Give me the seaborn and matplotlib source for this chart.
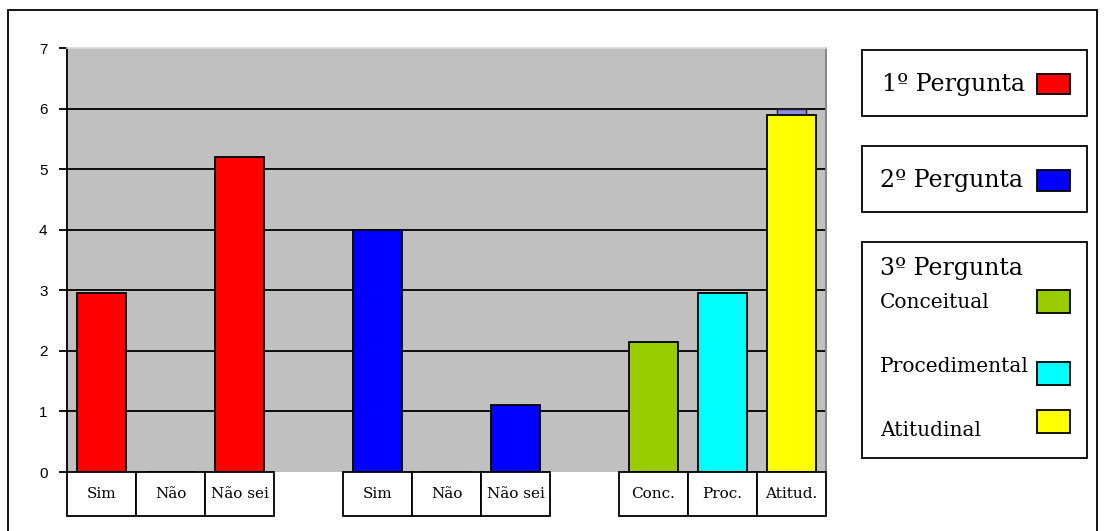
import numpy as np
import pandas as pd
import matplotlib
matplotlib.use("Agg")
import matplotlib.pyplot as plt
from matplotlib.patches import Rectangle
import seaborn as sns

# dados das tres perguntas
q1_labels = ["Sim", "Não", "Não sei"]
q1_values = [2.95, 0.0, 5.2]
q2_labels = ["Sim", "Não", "Não sei"]
q2_values = [4.0, 0.0, 1.1]
q3_labels = ["Conc.", "Proc.", "Atitud."]
q3_values = [2.15, 2.95, 5.9]
q3_names = ["Conceitual", "Procedimental", "Atitudinal"]
atitud_shadow = 6.0  # barrinha azulada atras de Atitud.

q1_color = "#FF0000"
q2_color = "#0000FF"
q3_colors = ["#99CC00", "#00FFFF", "#FFFF00"]

W, H = 1106, 531
SERIF = ["DejaVu Serif", "Liberation Serif"]

sns.set_theme(style="white")
plt.rcParams["font.family"] = ["Liberation Sans", "DejaVu Sans"]
plt.rcParams["text.color"] = "black"
plt.rcParams["ytick.labelcolor"] = "black"

rows = []
order = []
palette = {}
groups = [("P1", q1_labels, q1_values, [q1_color] * 3),
          ("P2", q2_labels, q2_values, [q2_color] * 3),
          ("P3", q3_labels, q3_values, q3_colors)]
for gi, (g, labs, vals, cols) in enumerate(groups):
    for lab, v, c in zip(labs, vals, cols):
        key = g + " " + lab
        rows.append({"slot": key, "valor": v, "rotulo": lab})
        order.append(key)
        palette[key] = c
    if gi < len(groups) - 1:
        order.append("gap" + str(gi))
df = pd.DataFrame(rows)

fig = plt.figure(figsize=(W / 100, H / 100), dpi=100)
ax = fig.add_axes([67 / W, 1 - 472 / H, (826 - 67) / W, (472 - 48) / H])
ax.set_facecolor("#C0C0C0")

# barra de fundo (azulada) em Atitud.
ax.bar(order.index("P3 Atitud."), atitud_shadow, width=0.42, color="#8C8CE6",
       edgecolor="#202020", linewidth=1.0, zorder=2)

sns.barplot(data=df, x="slot", y="valor", hue="slot", palette=palette, order=order,
            width=0.72, saturation=1, edgecolor="black", linewidth=1.3,
            legend=False, ax=ax, zorder=3)

ax.set_ylim(0, 7)
ax.set_xlim(-0.5, len(order) - 0.5)
ax.set_yticks(range(0, 8))
for yv in range(1, 7):
    ax.axhline(yv, color="black", linewidth=1.3, zorder=1)
ax.tick_params(axis="y", left=True, length=6, width=1.3, color="black",
               labelsize=11, labelcolor="black", pad=8)
ax.tick_params(axis="x", bottom=False, labelbottom=False)
ax.set_xlabel("")
ax.set_ylabel("")
ax.spines["left"].set_color("black")
ax.spines["left"].set_linewidth(1.3)
ax.spines["right"].set_color("#808080")
ax.spines["right"].set_linewidth(1.3)
ax.spines["top"].set_color("#D8D8D8")
ax.spines["bottom"].set_visible(False)

# tabela de rotulos abaixo do eixo
trans = ax.get_xaxis_transform()
cell_h = (516 - 472) / (472 - 48)
for key, lab in zip(df["slot"], df["rotulo"]):
    i = order.index(key)
    ax.add_patch(Rectangle((i - 0.5, -cell_h), 1.0, cell_h, transform=trans,
                           facecolor="white", edgecolor="black", linewidth=1.3,
                           clip_on=False, zorder=5))
    ax.text(i, -cell_h / 2, lab, transform=trans, ha="center", va="center",
            fontsize=11, family=SERIF, color="black", zorder=6)


def fig_rect(x0, y0, x1, y1, **kw):
    fig.add_artist(Rectangle((x0 / W, 1 - y1 / H), (x1 - x0) / W, (y1 - y0) / H,
                             transform=fig.transFigure, **kw))


def fig_text(x, y, s, size, **kw):
    fig.text(x / W, 1 - y / H, s, fontsize=size, family=SERIF, va="center",
             color="black", **kw)


# moldura externa
fig_rect(8, 10, 1097, 560, facecolor="none", edgecolor="black", linewidth=1.3)

# legendas
fig_rect(862, 50, 1087, 116, facecolor="white", edgecolor="black", linewidth=1.3)
fig_text(882, 84, "1º Pergunta", 17)
fig_rect(1037, 74, 1070, 94, facecolor=q1_color, edgecolor="black", linewidth=1.3)

fig_rect(862, 146, 1087, 212, facecolor="white", edgecolor="black", linewidth=1.3)
fig_text(880, 181, "2º Pergunta", 17)
fig_rect(1037, 170, 1070, 191, facecolor=q2_color, edgecolor="black", linewidth=1.3)

fig_rect(862, 242, 1087, 458, facecolor="white", edgecolor="black", linewidth=1.3)
fig_text(880, 269, "3º Pergunta", 17)
for name, col, ty, sy in zip(q3_names, q3_colors, [303, 367, 430], [290, 362, 410]):
    fig_text(880, ty, name, 14.5)
    fig_rect(1037, sy, 1070, sy + 23, facecolor=col, edgecolor="black", linewidth=1.3)

fig.savefig("out.png", dpi=100, facecolor="white")
